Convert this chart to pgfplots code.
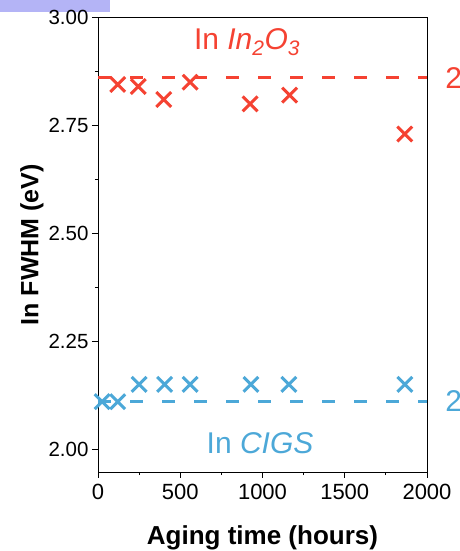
\documentclass[border=0pt]{standalone}
\usepackage{pgfplots}
\pgfplotsset{compat=1.18}
\usepackage{fontspec}
\setmainfont{Liberation Sans}
\definecolor{cred}{RGB}{245,66,50}
\definecolor{cblue}{RGB}{76,168,216}
\definecolor{cpurple}{RGB}{180,180,246}
\begin{document}
\begin{tikzpicture}[x=1pt,y=1pt]
\useasboundingbox (0,0) rectangle (459,551);
\clip (0,0) rectangle (459,551);
\fill[white] (0,0) rectangle (459,551);
\fill[cpurple] (0,539) rectangle (110,551);
\begin{axis}[
  at={(98pt,79pt)}, anchor=south west,
  scale only axis, width=329pt, height=454.5pt,
  xmin=0, xmax=2000, ymin=1.947, ymax=3.0,
  xtick={0,500,1000,1500,2000},
  ytick={2,2.25,2.5,2.75,3},
  minor x tick num=1, minor y tick num=1,
  tick pos=left, tick align=outside,
  major tick length=6pt, minor tick length=3pt,
  axis line style={line width=0.9pt},
  every tick/.style={line width=0.9pt, black},
  /pgf/number format/assume math mode=true,
  xticklabel style={font=\fontsize{22}{26}\selectfont, yshift=-3pt, /pgf/number format/1000 sep={}},
  yticklabel style={font=\fontsize{20.5}{24}\selectfont, /pgf/number format/.cd, fixed, fixed zerofill, precision=2},
  xlabel={\textbf{Aging time (hours)}},
  xlabel style={font=\fontsize{26}{30}\selectfont, at={(axis description cs:0.5,-0.1452)}, anchor=center},
  ylabel={\textbf{In FWHM (eV)}},
  ylabel style={font=\fontsize{25}{29}\selectfont, at={(axis description cs:-0.2006,0.5)}, anchor=center},
  clip mode=individual,
]
\addplot[cred, line width=3pt, dash pattern=on 13pt off 19pt, forget plot] coordinates {(0,2.86) (2000,2.86)};
\addplot[cblue, line width=3pt, dash pattern=on 13pt off 19pt, forget plot] coordinates {(0,2.11) (2000,2.11)};
\addplot[only marks, mark=x, mark size=10.5pt, cred, mark options={line width=3pt}] coordinates {
(120,2.845) (245,2.84) (400,2.81) (560,2.85) (925,2.80) (1165,2.82) (1865,2.73)};
\addplot[only marks, mark=x, mark size=10.5pt, cblue, mark options={line width=3pt}] coordinates {
(25,2.11) (120,2.11) (250,2.15) (405,2.15) (560,2.15) (930,2.15) (1160,2.15) (1865,2.15)};
\node[cred, font=\fontsize{30}{36}\selectfont] at (axis cs:906,2.942) {In \textit{In\textsubscript{2}O\textsubscript{3}}};
\node[cblue, font=\fontsize{30}{36}\selectfont] at (axis cs:985,2.014) {In \textit{CIGS}};
\node[cred, font=\fontsize{30}{36}\selectfont, anchor=west, inner sep=0pt] at (axis cs:2110,2.86) {2.86 eV};
\node[cblue, font=\fontsize{30}{36}\selectfont, anchor=west, inner sep=0pt] at (axis cs:2110,2.11) {2.11 eV};
\end{axis}
\end{tikzpicture}
\end{document}
